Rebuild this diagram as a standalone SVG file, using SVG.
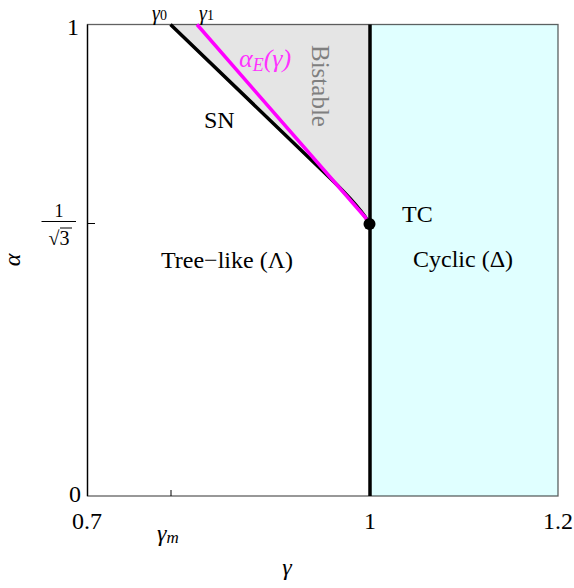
<svg xmlns="http://www.w3.org/2000/svg" width="574" height="588" viewBox="0 0 574 588">
<style>
text{font-family:"Liberation Serif","Times New Roman",serif;fill:#000}
.lbl{font-size:24px}
.it{font-style:italic}
.curve{fill:none;stroke-width:3.5;stroke-linejoin:round;stroke-linecap:butt}
</style>
<rect width="574" height="588" fill="#fff"/>
<g id="region-cyclic"><rect x="370" y="24.5" width="188" height="471.5" fill="#e0ffff"/></g>
<g id="region-bistable"><path d="M170.5,24.5 L330,178 Q362,209 369.5,224 L369.5,24.5 Z" fill="#e5e5e5"/></g>
<g id="frame">
<rect x="87.5" y="24.5" width="470.5" height="471.5" fill="none" stroke="#000" stroke-opacity="0.62" stroke-width="1.3"/>
<line x1="87.5" y1="24.5" x2="87.5" y2="496" stroke="#000" stroke-width="1.3"/>
<line x1="87.5" y1="223.5" x2="95" y2="223.5" stroke="#000" stroke-width="1"/>
<line x1="171" y1="496" x2="171" y2="490" stroke="#000" stroke-width="1"/>
</g>
<g id="connectors">
<path id="SN-curve" class="curve" d="M170.5,24.5 L330,178 Q362,209 369.5,224" stroke="#000"/>
<path id="alphaE-curve" class="curve" d="M197,24.5 L365,217 L369.5,224" stroke="#ff00ff"/>
<line id="TC-line" x1="370" y1="24.5" x2="370" y2="496" stroke="#000" stroke-width="3.5"/>
</g>
<g id="TC-point"><circle cx="369.5" cy="224" r="6" fill="#000"/><text class="lbl" x="402" y="222">TC</text></g>
<g id="SN-label"><text class="lbl" x="204" y="128">SN</text></g>
<g id="alphaE-label"><text class="it" font-size="26" x="239" y="67" style="fill:#ff33ff">α<tspan font-size="18" dy="4">E</tspan><tspan dy="-4">(γ)</tspan></text></g>
<g id="bistable-label"><text class="lbl" font-size="25" transform="translate(312,45) rotate(90)" style="fill:#7f7f7f;font-size:25px">Bistable</text></g>
<g id="tree-label"><text class="lbl" x="161" y="268">Tree−like (Λ)</text></g>
<g id="cyclic-label"><text class="lbl" x="413" y="267">Cyclic (Δ)</text></g>
<g id="top-labels">
<text class="it" font-size="20" x="152" y="20">γ<tspan font-style="normal" font-size="14" dy="0">0</tspan></text>
<text class="it" font-size="20" x="199" y="20">γ<tspan font-style="normal" font-size="14" dy="0">1</tspan></text>
</g>
<g id="axis-labels">
<text class="lbl" x="79" y="35" text-anchor="end">1</text>
<text class="lbl" x="81" y="502" text-anchor="end">0</text>
<text font-size="18" x="59" y="217" text-anchor="middle">1</text>
<line x1="41.5" y1="221.5" x2="76" y2="221.5" stroke="#000" stroke-width="1"/>
<text font-size="20" x="59" y="245" text-anchor="middle">√3</text>
<line x1="60" y1="228" x2="72" y2="228" stroke="#000" stroke-width="1"/>
<text class="lbl it" transform="translate(20,260) rotate(-90)" text-anchor="middle">α</text>
<text class="lbl" x="87" y="529" text-anchor="middle">0.7</text>
<text class="lbl" x="370" y="529" text-anchor="middle">1</text>
<text class="lbl" x="558" y="529" text-anchor="middle">1.2</text>
<text class="lbl it" x="157" y="541">γ<tspan font-size="17" dy="2">m</tspan></text>
<text class="lbl it" x="287" y="575" text-anchor="middle">γ</text>
</g>
</svg>
